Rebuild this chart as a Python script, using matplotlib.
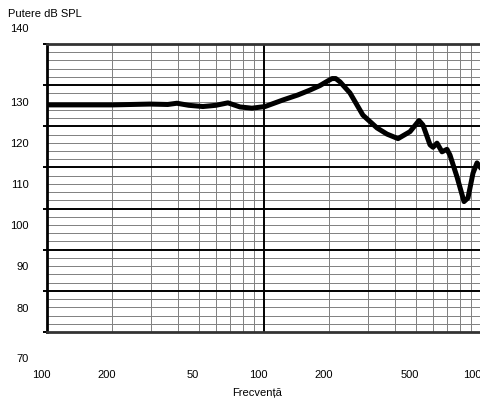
import matplotlib
matplotlib.use("Agg")
import matplotlib.pyplot as plt
import matplotlib.transforms as mtransforms
import numpy as np

plt.rcParams['font.family'] = ['Liberation Sans', 'DejaVu Sans']

# date
frecventa = [100, 142, 201, 298, 360, 397, 450, 523, 600, 682, 775, 880, 1011,
             1224, 1430, 1629, 1811, 1950, 2058, 2141, 2240, 2490, 2857, 3317,
             3688, 4146, 4709, 5180, 5403, 5821, 6010, 6270, 6612, 6970, 7195,
             7752, 8351, 8710, 9185, 9585, 10000]
putere = [130.2, 130.2, 130.2, 130.4, 130.3, 130.6, 130.1, 129.8, 130.1, 130.7,
          129.7, 129.4, 129.8, 131.4, 132.6, 133.8, 134.9, 135.9, 136.6, 136.6,
          135.8, 133.1, 127.7, 124.6, 123.1, 122.0, 123.7, 126.4, 125.3, 120.5,
          119.9, 120.9, 118.8, 119.4, 118.0, 112.7, 106.7, 107.6, 113.6, 116.1,
          114.8]

x_ticks = [100, 200, 500, 1000, 2000, 5000, 10000]
x_labels = ["100", "200", "50", "100", "200", "500", "1000"]
y_labels = [140, 130, 120, 110, 100, 90, 80, 70]
y_pos = [148.6, 130.7, 120.7, 110.7, 100.7, 90.7, 80.7, 68.4]

fig = plt.figure(figsize=(4.8, 4.03), dpi=100)
ax = fig.add_axes([47 / 480, 71 / 403, 434 / 480, 288 / 403])

ax.set_xscale('log')
ax.set_xlim(100, 10000)
ax.set_ylim(75, 145)

# grila orizontala
for v in np.arange(77, 145, 2):
    if (v - 75) % 10 != 0:
        ax.axhline(v, color='#808080', lw=0.7, zorder=1)
for v in np.arange(85, 145, 10):
    ax.axhline(v, color='black', lw=1.4, zorder=2)

# grila verticala
for dec in [100, 1000]:
    for k in range(2, 10):
        ax.axvline(dec * k, color='#808080', lw=0.7, zorder=1)
ax.axvline(1000, color='black', lw=1.4, zorder=2)

ax.plot(frecventa, putere, color='black', lw=3.6, solid_joinstyle='round',
        solid_capstyle='round', zorder=5)

for s in ['top', 'bottom']:
    ax.spines[s].set_color('#333333')
    ax.spines[s].set_linewidth(2)
ax.spines['left'].set_color('black')
ax.spines['left'].set_linewidth(2)
ax.spines['right'].set_visible(False)

ax.set_xticks([])
ax.set_xticks([], minor=True)
ax.set_yticks(np.arange(75, 146, 10))
ax.set_yticklabels([])
ax.set_yticks([], minor=True)
ax.tick_params(axis='y', length=3, width=1.4, direction='out', color='black')

# etichete
tr_y = mtransforms.blended_transform_factory(fig.transFigure, ax.transData)
for lab, p in zip(y_labels, y_pos):
    ax.text(29 / 480, p, str(lab), transform=tr_y, ha='right', va='center',
            fontsize=8, clip_on=False)

tr_x = mtransforms.blended_transform_factory(ax.transData, fig.transFigure)
tr_x = mtransforms.offset_copy(tr_x, fig=fig, x=-6, y=0, units='dots')
for t, lab in zip(x_ticks, x_labels):
    ax.text(t, 1 - 375 / 403, lab, transform=tr_x, ha='center', va='center',
            fontsize=8, clip_on=False)

fig.text(8 / 480, 1 - 14 / 403, "Putere dB SPL", ha='left', va='center', fontsize=8)
fig.text(257 / 480, 1 - 393 / 403, "Frecvență", ha='center', va='center', fontsize=8)

fig.savefig("out.png", dpi=100)
